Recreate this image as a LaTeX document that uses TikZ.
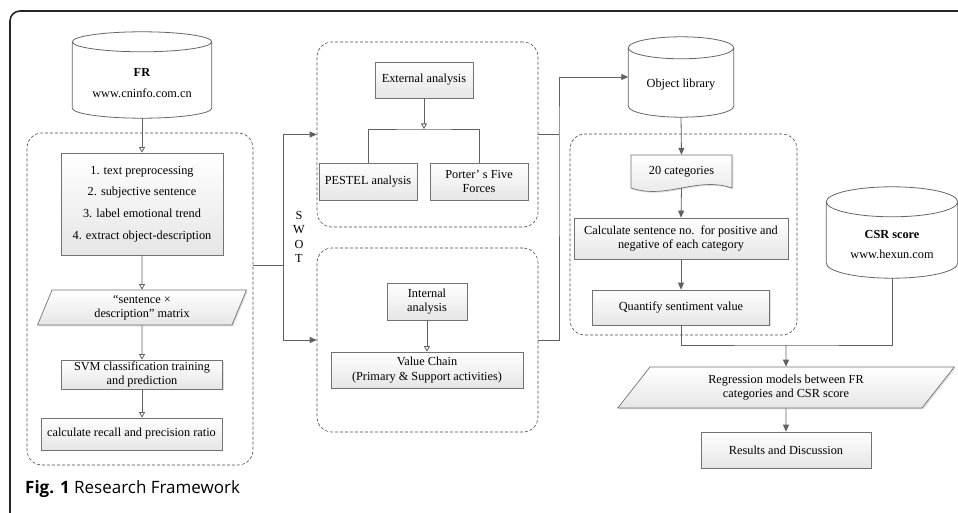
\documentclass[tikz,border=0pt]{standalone}
\usepackage{fontspec}
\setmainfont{Liberation Serif}
\newfontfamily\capfont{Open Sans}
\usetikzlibrary{arrows.meta,calc,shapes.geometric,shadows}

\newcommand\boxfont{\fontsize{12.3}{14.5}\selectfont}
\newcommand\cylfont{\fontsize{12.3}{20.5}\selectfont}

\begin{document}
\begin{tikzpicture}[x=1pt,y=1pt,
  line/.style={draw=black!62, line width=0.8pt},
  open/.style={line, -{Triangle[open,length=5.5pt,width=6pt]}},
  fwd/.style={line, -{Triangle[length=7pt,width=6pt]}},
  docfill/.style={draw=black!55, line width=0.7pt, top color=white, bottom color=black!10,
    drop shadow={shadow xshift=1.3pt,shadow yshift=-1.3pt,opacity=0.25}},
  procbox/.style={docfill, align=center, inner sep=1pt, font=\boxfont},
  grp/.style={draw=black!70, densely dashed, line width=0.6pt, rounded corners=15pt},
  cylnode/.style={inner sep=0pt},
  cylline/.style={draw=black!60, line width=0.8pt}]

  \useasboundingbox (0,0) rectangle (958,-513);
  \fill[white] (0,0) rectangle (958,-513);
  \begin{scope}
    \clip (0,0) rectangle (958,-513);
    \draw[black!85, line width=1.6pt, rounded corners=10pt] (10,-540) -- (10,-11) -- (990,-11);
  \end{scope}

  % dashed groups
  \node[grp, minimum width=226, minimum height=332] (lgrp) at (140,-299) {};
  \node[grp, minimum width=221, minimum height=185] (egrp) at (427.5,-134.5) {};
  \node[grp, minimum width=221, minimum height=184] (igrp) at (427.5,-340) {};
  \node[grp, minimum width=227, minimum height=201] (rgrp) at (683.5,-234.5) {};

  % data bases
  \node[cylnode, minimum width=139, minimum height=86,
    label={[name=frtxt, font=\cylfont, align=center, yshift=-8pt]center:{\textbf{FR}\\www.cninfo.com.cn}}] (fr) at (142,-75) {};
  \node[cylnode, minimum width=105, minimum height=80,
    label={[name=oltxt, font=\cylfont, yshift=-8pt]center:Object library}] (ol) at (681,-77) {};
  \node[cylnode, minimum width=131, minimum height=91,
    label={[name=csrtxt, font=\cylfont, align=center, yshift=-12pt]center:{\textbf{CSR score}\\www.hexun.com}}] (csr) at (892,-232.5) {};
  \foreach \cy/\ry in {fr/10,ol/11,csr/15}
    \draw[cylline] let \p1=(\cy.north west), \p2=(\cy.south east), \n1={(\x2-\x1)/2} in
      ({\x1},{\y1-\ry pt}) arc[start angle=180, end angle=540, x radius=\n1, y radius=\ry pt]
      -- ({\x1},{\y2+\ry pt}) arc[start angle=180, end angle=360, x radius=\n1, y radius=\ry pt]
      -- ({\x2},{\y1-\ry pt});

  % left column
  \node[procbox, minimum width=162, minimum height=102, font=\fontsize{12.3}{21.7}\selectfont] (steps) at (142,-204)
    {1. text preprocessing\\2. subjective sentence\\3. label emotional trend\\4. extract object-description};
  \node[procbox, trapezium, trapezium left angle=74, trapezium right angle=106, trapezium stretches=true,
    minimum width=209, minimum height=35] (mat) at (142,-307.5) {“sentence ×\\description”\ matrix};
  \node[procbox, minimum width=161, minimum height=29] (svm) at (142,-374.5) {SVM classification training\\and prediction};
  \node[procbox, minimum width=181, minimum height=32] (calc) at (131.5,-434) {calculate recall and precision ratio};

  \draw[open] (fr.south) -- (steps.north);
  \draw[open] (steps) -- (mat);
  \draw[open] (mat) -- (svm);
  \draw[open] (svm.south) -- (svm.south |- calc.north);

  % SWOT
  \coordinate (swot) at (283,-265);
  \node[font=\boxfont, align=center] (swotlbl) at (299,-237) {S\\W\\O\\T};
  \draw[line] (lgrp.east |- swot) -- (swot);
  \draw[fwd] (swot) |- (egrp.west);
  \draw[fwd] (swot) |- (igrp.west);

  % external analysis
  \node[procbox, minimum width=98, minimum height=36] (ea) at (424,-80) {External analysis};
  \node[procbox, minimum width=98, minimum height=37] (pestel) at (368,-181.5) {PESTEL analysis};
  \node[procbox, minimum width=98, minimum height=37] (porter) at (479,-181.5) {Porter’\ s Five\\Forces};
  \coordinate (ebr) at (424,-129);
  \draw[open] (ea) -- (ebr);
  \draw[line] (pestel.north) |- (ebr) -| (porter.north);

  % internal analysis
  \node[procbox, minimum width=80, minimum height=37] (ia) at (427,-301.5) {Internal\\analysis};
  \node[procbox, minimum width=192, minimum height=36] (vc) at (427,-370) {Value Chain\\(Primary \& Support activities)};
  \draw[open] (ia) -- (vc);

  % to object library
  \coordinate (rj) at (559,-134.5);
  \draw[line] (egrp.east) -- (rj);
  \draw[fwd] (igrp.east) -| (rj) |- (ol.west);

  % right column
  \draw[docfill] (631,-155) -- (732,-155) -- (732,-188) .. controls (697,-176) and (666,-200) .. (631,-188) -- cycle;
  \node[font=\boxfont, minimum width=101, minimum height=33] (cat) at (681.5,-171.5) {20 categories};
  \node[procbox, minimum width=214, minimum height=41] (cnt) at (681,-238.5)
    {Calculate sentence no.\ \ for positive and\\negative of each category};
  \node[procbox, minimum width=177, minimum height=35] (quant) at (681,-307.5) {Quantify sentiment value};

  \draw[fwd] (ol.south) -- (cat.north);
  \draw[fwd] (cat.south) -- (cnt.north);
  \draw[fwd] (cnt) -- (quant);

  % regression
  \node[procbox, trapezium, trapezium left angle=56, trapezium right angle=124, trapezium stretches=true,
    minimum width=337, minimum height=41] (reg) at (786,-387.5) {Regression models between FR\\categories and CSR score};
  \node[procbox, minimum width=170, minimum height=36] (res) at (786,-450) {Results and Discussion};

  \coordinate (mrg) at (786,-345);
  \draw[line] (quant.south) |- (mrg) -| (csr.south);
  \draw[fwd] (mrg) -- (reg);
  \draw[fwd] (reg) -- (res);

  % caption
  \node[anchor=base west, inner sep=0pt, font=\capfont\fontsize{17}{20}\selectfont] (cap) at (25,-493)
    {\textbf{Fig. 1} Research Framework};
\end{tikzpicture}
\end{document}
